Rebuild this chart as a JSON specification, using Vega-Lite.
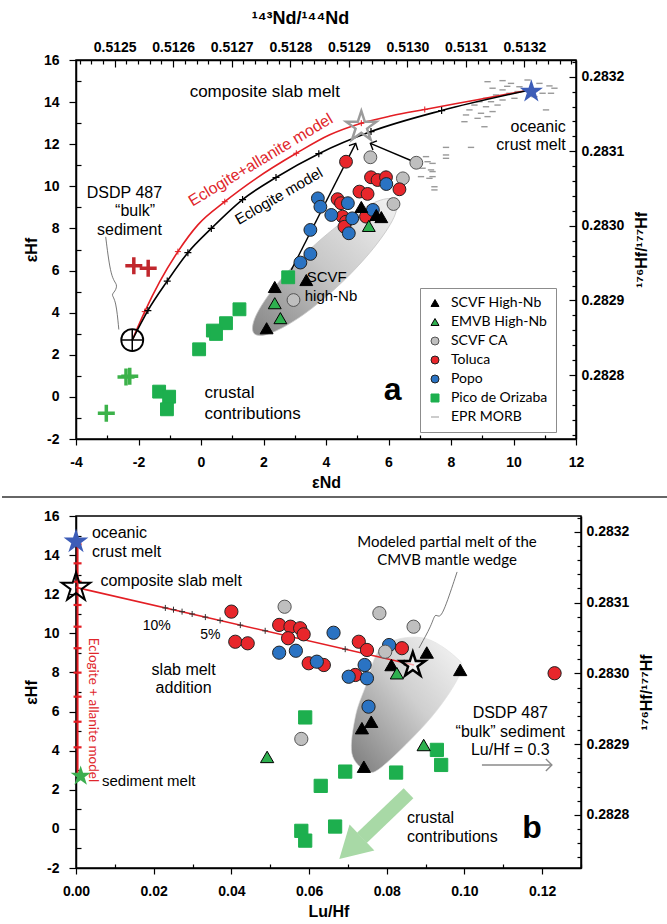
{
  "$schema": "https://vega.github.io/schema/vega-lite/v6.json",
  "background": "white",
  "padding": {"top": 8, "left": 0, "right": 0, "bottom": 0},
  "config": {
    "view": {"stroke": "black", "strokeWidth": 1.5},
    "axis": {"grid": false, "domainColor": "black", "domainWidth": 1.5, "tickColor": "black", "tickWidth": 1.2, "labelFont": "Liberation Sans", "labelFontWeight": "bold", "labelFontSize": 14, "labelColor": "black", "titleFont": "Liberation Sans", "titleFontWeight": "bold", "titleFontSize": 16, "titleColor": "black", "labelOverlap": false, "labelFlush": false, "labelBound": false},
    "point": {"opacity": 1},
    "text": {"font": "Liberation Sans", "color": "black", "baseline": "middle"}
  },
  "spacing": 77,
  "bounds": "flush",
  "resolve": {"scale": {"fill": "independent", "stroke": "independent", "shape": "independent"}, "legend": {"fill": "independent", "stroke": "independent", "shape": "independent"}},
  "datasets": {
    "top_pts": [
      {"nd":9.17,"hf":14.97,"group":"EPR MORB"},{"nd":9.65,"hf":15.02,"group":"EPR MORB"},{"nd":9.92,"hf":14.89,"group":"EPR MORB"},{"nd":10.19,"hf":14.73,"group":"EPR MORB"},{"nd":9.33,"hf":14.66,"group":"EPR MORB"},{"nd":9.65,"hf":14.58,"group":"EPR MORB"},{"nd":9.87,"hf":14.42,"group":"EPR MORB"},{"nd":10.13,"hf":14.5,"group":"EPR MORB"},{"nd":10.83,"hf":14.89,"group":"EPR MORB"},{"nd":11.15,"hf":14.77,"group":"EPR MORB"},{"nd":11.31,"hf":14.66,"group":"EPR MORB"},{"nd":11.2,"hf":14.42,"group":"EPR MORB"},{"nd":10.93,"hf":14.42,"group":"EPR MORB"},{"nd":10.67,"hf":14.26,"group":"EPR MORB"},{"nd":9.44,"hf":14.34,"group":"EPR MORB"},{"nd":9.12,"hf":14.18,"group":"EPR MORB"},{"nd":8.91,"hf":14.02,"group":"EPR MORB"},{"nd":9.28,"hf":14.02,"group":"EPR MORB"},{"nd":9.65,"hf":14.1,"group":"EPR MORB"},{"nd":10.03,"hf":14.18,"group":"EPR MORB"},{"nd":8.75,"hf":13.86,"group":"EPR MORB"},{"nd":9.12,"hf":13.78,"group":"EPR MORB"},{"nd":9.49,"hf":13.86,"group":"EPR MORB"},{"nd":8.59,"hf":13.63,"group":"EPR MORB"},{"nd":8.96,"hf":13.47,"group":"EPR MORB"},{"nd":9.33,"hf":13.55,"group":"EPR MORB"},{"nd":8.85,"hf":13.23,"group":"EPR MORB"},{"nd":9.17,"hf":13.31,"group":"EPR MORB"},{"nd":8.43,"hf":13.07,"group":"EPR MORB"},{"nd":9.07,"hf":12.83,"group":"EPR MORB"},{"nd":11.04,"hf":13.63,"group":"EPR MORB"},{"nd":7.84,"hf":11.85,"group":"EPR MORB"},{"nd":8.64,"hf":11.85,"group":"EPR MORB"},{"nd":7.2,"hf":11.41,"group":"EPR MORB"},{"nd":7.84,"hf":11.33,"group":"EPR MORB"},{"nd":7.25,"hf":11.17,"group":"EPR MORB"},{"nd":7.36,"hf":10.78,"group":"EPR MORB"},{"nd":7.41,"hf":10.7,"group":"EPR MORB"},{"nd":7.04,"hf":10.46,"group":"EPR MORB"},{"nd":7.31,"hf":10.38,"group":"EPR MORB"},{"nd":7.47,"hf":9.98,"group":"EPR MORB"},{"nd":7.47,"hf":9.83,"group":"EPR MORB"},{"nd":7.84,"hf":11.49,"group":"EPR MORB"},{"nd":7.41,"hf":11.09,"group":"EPR MORB"},{"nd":7.09,"hf":10.86,"group":"EPR MORB"},{"nd":7.41,"hf":10.46,"group":"EPR MORB"},{"nd":8.48,"hf":13.39,"group":"EPR MORB"},{"nd":10.45,"hf":15.05,"group":"EPR MORB"},{"nd":10.75,"hf":14.6,"group":"EPR MORB"},{"nd":9.8,"hf":14.75,"group":"EPR MORB"},
      {"nd":2.79,"hf":5.68,"group":"Pico de Orizaba"},{"nd":1.23,"hf":4.16,"group":"Pico de Orizaba"},{"nd":0.8,"hf":3.5,"group":"Pico de Orizaba"},{"nd":0.38,"hf":3.15,"group":"Pico de Orizaba"},{"nd":0.48,"hf":2.99,"group":"Pico de Orizaba"},{"nd":-0.06,"hf":2.26,"group":"Pico de Orizaba"},{"nd":-1.34,"hf":0.25,"group":"Pico de Orizaba"},{"nd":-1.02,"hf":0.01,"group":"Pico de Orizaba"},{"nd":-1.09,"hf":-0.59,"group":"Pico de Orizaba"},
      {"nd":5.42,"hf":11.38,"group":"SCVF CA"},{"nd":6.89,"hf":11.12,"group":"SCVF CA"},{"nd":6.46,"hf":10.38,"group":"SCVF CA"},{"nd":6.16,"hf":9.16,"group":"SCVF CA"},{"nd":2.96,"hf":4.6,"group":"SCVF CA"},
      {"nd":4.64,"hf":11.17,"group":"Toluca"},{"nd":5.44,"hf":10.43,"group":"Toluca"},{"nd":5.65,"hf":10.3,"group":"Toluca"},{"nd":5.92,"hf":10.43,"group":"Toluca"},{"nd":6.35,"hf":9.86,"group":"Toluca"},{"nd":5.07,"hf":9.75,"group":"Toluca"},{"nd":5.33,"hf":9.64,"group":"Toluca"},{"nd":4.37,"hf":9.39,"group":"Toluca"},{"nd":4.48,"hf":9.2,"group":"Toluca"},{"nd":4.53,"hf":8.56,"group":"Toluca"},{"nd":4.64,"hf":8.32,"group":"Toluca"},{"nd":4.59,"hf":8.08,"group":"Toluca"},{"nd":5.28,"hf":8.56,"group":"Toluca"},
      {"nd":3.74,"hf":9.43,"group":"Popo"},{"nd":3.82,"hf":9.03,"group":"Popo"},{"nd":4.17,"hf":8.64,"group":"Popo"},{"nd":4.7,"hf":9.2,"group":"Popo"},{"nd":4.84,"hf":8.48,"group":"Popo"},{"nd":4.73,"hf":7.77,"group":"Popo"},{"nd":5.5,"hf":8.88,"group":"Popo"},{"nd":5.93,"hf":10.11,"group":"Popo"},{"nd":3.5,"hf":7.93,"group":"Popo"},{"nd":3.5,"hf":6.79,"group":"Popo"},{"nd":3.18,"hf":6.38,"group":"Popo"},
      {"nd":2.36,"hf":5.22,"group":"SCVF High-Nb"},{"nd":3.37,"hf":5.55,"group":"SCVF High-Nb"},{"nd":2.1,"hf":3.26,"group":"SCVF High-Nb"},{"nd":5.13,"hf":9.02,"group":"SCVF High-Nb"},{"nd":5.61,"hf":8.64,"group":"SCVF High-Nb"},{"nd":5.77,"hf":8.54,"group":"SCVF High-Nb"},
      {"nd":2.36,"hf":4.45,"group":"EMVB High-Nb"},{"nd":2.54,"hf":3.74,"group":"EMVB High-Nb"},{"nd":5.37,"hf":8.12,"group":"EMVB High-Nb"}
    ],
    "curve_e": [
      {"nd":-2.2,"hf":2.7,"ord":0},{"nd":-1.7,"hf":4.1,"ord":1},{"nd":-1.08,"hf":5.5,"ord":2},{"nd":-0.42,"hf":6.85,"ord":3},{"nd":0.33,"hf":8.0,"ord":4},{"nd":1.33,"hf":9.37,"ord":5},{"nd":2.4,"hf":10.42,"ord":6},{"nd":3.77,"hf":11.55,"ord":7},{"nd":5.44,"hf":12.6,"ord":8},{"nd":7.7,"hf":13.6,"ord":9},{"nd":10.6,"hf":14.6,"ord":10}
    ],
    "curve_a": [
      {"nd":-2.2,"hf":2.7,"ord":0},{"nd":-1.8,"hf":4.05,"ord":1},{"nd":-1.32,"hf":5.47,"ord":2},{"nd":-0.74,"hf":6.9,"ord":3},{"nd":-0.1,"hf":8.17,"ord":4},{"nd":0.76,"hf":9.27,"ord":5},{"nd":1.77,"hf":10.38,"ord":6},{"nd":3.05,"hf":11.57,"ord":7},{"nd":4.12,"hf":12.45,"ord":8},{"nd":5.13,"hf":13.0,"ord":9},{"nd":6.1,"hf":13.35,"ord":10},{"nd":7.16,"hf":13.65,"ord":11},{"nd":8.8,"hf":14.1,"ord":12},{"nd":10.6,"hf":14.6,"ord":13}
    ],
    "top_ell": [
      {"nd":6.22,"hf":9.33,"ord":0},{"nd":6.17,"hf":8.51,"ord":1},{"nd":5.52,"hf":7.06,"ord":2},{"nd":4.47,"hf":5.38,"ord":3},{"nd":3.27,"hf":3.9,"ord":4},{"nd":2.25,"hf":3.04,"ord":5},{"nd":1.7,"hf":3.01,"ord":6},{"nd":1.75,"hf":3.83,"ord":7},{"nd":2.39,"hf":5.28,"ord":8},{"nd":3.45,"hf":6.96,"ord":9},{"nd":4.65,"hf":8.44,"ord":10},{"nd":5.66,"hf":9.3,"ord":11}
    ],
    "bot_pts": [
      {"lh":0.0693,"hf":2.93,"group":"Pico de Orizaba"},{"lh":0.0824,"hf":2.88,"group":"Pico de Orizaba"},{"lh":0.0929,"hf":4.04,"group":"Pico de Orizaba"},{"lh":0.094,"hf":3.27,"group":"Pico de Orizaba"},{"lh":0.0667,"hf":0.12,"group":"Pico de Orizaba"},{"lh":0.059,"hf":5.7,"group":"Pico de Orizaba"},{"lh":0.063,"hf":2.2,"group":"Pico de Orizaba"},{"lh":0.058,"hf":-0.1,"group":"Pico de Orizaba"},{"lh":0.059,"hf":-0.6,"group":"Pico de Orizaba"},
      {"lh":0.0537,"hf":11.36,"group":"SCVF CA"},{"lh":0.0781,"hf":11.03,"group":"SCVF CA"},{"lh":0.0869,"hf":10.34,"group":"SCVF CA"},{"lh":0.058,"hf":4.6,"group":"SCVF CA"},
      {"lh":0.040,"hf":11.11,"group":"Toluca"},{"lh":0.041,"hf":9.57,"group":"Toluca"},{"lh":0.0442,"hf":9.49,"group":"Toluca"},{"lh":0.0523,"hf":10.43,"group":"Toluca"},{"lh":0.0552,"hf":10.34,"group":"Toluca"},{"lh":0.0577,"hf":10.26,"group":"Toluca"},{"lh":0.0546,"hf":9.75,"group":"Toluca"},{"lh":0.0586,"hf":9.95,"group":"Toluca"},{"lh":0.0599,"hf":8.47,"group":"Toluca"},{"lh":0.0638,"hf":8.38,"group":"Toluca"},{"lh":0.0728,"hf":9.57,"group":"Toluca"},{"lh":0.0749,"hf":9.15,"group":"Toluca"},{"lh":0.0839,"hf":9.24,"group":"Toluca"},{"lh":0.0719,"hf":7.87,"group":"Toluca"},{"lh":0.1232,"hf":7.96,"group":"Toluca"},
      {"lh":0.0523,"hf":9.01,"group":"Popo"},{"lh":0.0566,"hf":9.11,"group":"Popo"},{"lh":0.062,"hf":8.55,"group":"Popo"},{"lh":0.0663,"hf":10.03,"group":"Popo"},{"lh":0.0702,"hf":7.78,"group":"Popo"},{"lh":0.0743,"hf":8.38,"group":"Popo"},{"lh":0.0749,"hf":7.7,"group":"Popo"},{"lh":0.0806,"hf":9.4,"group":"Popo"},{"lh":0.0753,"hf":6.25,"group":"Popo"},
      {"lh":0.0796,"hf":9.06,"group":"SCVF CA"},
      {"lh":0.0812,"hf":8.38,"group":"SCVF High-Nb"},{"lh":0.0903,"hf":9.02,"group":"SCVF High-Nb"},{"lh":0.0989,"hf":8.13,"group":"SCVF High-Nb"},{"lh":0.0736,"hf":5.15,"group":"SCVF High-Nb"},{"lh":0.076,"hf":5.48,"group":"SCVF High-Nb"},{"lh":0.0741,"hf":3.18,"group":"SCVF High-Nb"},
      {"lh":0.0826,"hf":7.96,"group":"EMVB High-Nb"},{"lh":0.0895,"hf":4.29,"group":"EMVB High-Nb"},{"lh":0.0492,"hf":3.68,"group":"EMVB High-Nb"}
    ],
    "bot_poly": [
      {"lh":0.089,"hf":9.78,"ord":0},{"lh":0.0976,"hf":8.81,"ord":1},{"lh":0.0989,"hf":7.96,"ord":2},{"lh":0.0916,"hf":5.74,"ord":3},{"lh":0.0788,"hf":3.18,"ord":4},{"lh":0.0745,"hf":3.01,"ord":5},{"lh":0.071,"hf":3.87,"ord":6},{"lh":0.0719,"hf":5.74,"ord":7},{"lh":0.0745,"hf":7.27,"ord":8},{"lh":0.0788,"hf":9.32,"ord":9}
    ]
  },
  "vconcat": [
    {
      "width": 500,
      "height": 379,
      "resolve": {"scale": {"x": "independent", "y": "independent"}},
      "layer": [
        {
          "encoding": {
            "x": {"field": "nd", "type": "quantitative", "scale": {"domain": [-4, 12], "nice": false, "zero": false},
              "axis": {"title": "εNd", "values": [-4,-3,-2,-1,0,1,2,3,4,5,6,7,8,9,10,11,12], "labelExpr": "datum.value % 2 == 0 ? '' + datum.value : ''", "tickSize": {"condition": {"test": "datum.value % 2 != 0", "value": -4}, "value": 6}, "labelPadding": 10, "titlePadding": 5}},
            "y": {"field": "hf", "type": "quantitative", "scale": {"domain": [-2, 16], "nice": false, "zero": false},
              "axis": {"title": "εHf", "values": [-2,-1,0,1,2,3,4,5,6,7,8,9,10,11,12,13,14,15,16], "labelExpr": "datum.value % 2 == 0 ? '' + datum.value : ''", "tickSize": {"condition": {"test": "datum.value % 2 != 0", "value": -5}, "value": 7}, "labelPadding": 10, "titlePadding": 4}}
          },
          "layer": [
            {"data": {"name": "top_ell"}, "mark": {"type": "line", "interpolate": "cardinal-closed", "fill": {"gradient": "linear", "x1": 0, "y1": 1, "x2": 1, "y2": 0, "stops": [{"offset": 0, "color": "#858585"}, {"offset": 0.5, "color": "#c8c8c8"}, {"offset": 1, "color": "#f2f2f2"}]}, "stroke": "#c4c4c4", "strokeWidth": 0.8}, "encoding": {"order": {"field": "ord", "type": "quantitative"}}},
            {"data": {"name": "top_pts"}, "transform": [{"filter": "datum.group == 'EPR MORB'"}], "mark": {"type": "point", "filled": true, "size": 40, "strokeWidth": 1.4},
              "encoding": {
                "fill": {"field": "group", "type": "nominal", "scale": {"domain": ["SCVF High-Nb","EMVB High-Nb","SCVF CA","Toluca","Popo","Pico de Orizaba","EPR MORB"], "range": ["#000000","#2eb04f","#bfbfbf","#e8262b","#2a73c3","#1daf4e","#999999"]}, "legend": {"title": null, "orient": "none", "legendX": 344, "legendY": 228, "padding": 8, "strokeColor": "#8c8c8c", "fillColor": "white", "labelFont": "Lato", "labelFontSize": 14, "labelColor": "black", "symbolSize": 64, "symbolStrokeWidth": 1, "rowPadding": 5, "labelOffset": 9}},
                "stroke": {"field": "group", "type": "nominal", "scale": {"domain": ["SCVF High-Nb","EMVB High-Nb","SCVF CA","Toluca","Popo","Pico de Orizaba","EPR MORB"], "range": ["#000000","#000000","#555555","#222222","#222222","#1daf4e","#999999"]}, "legend": {"title": null, "orient": "none", "legendX": 344, "legendY": 228, "padding": 8, "strokeColor": "#8c8c8c", "fillColor": "white", "labelFont": "Lato", "labelFontSize": 14, "labelColor": "black", "symbolSize": 64, "symbolStrokeWidth": 1, "rowPadding": 5, "labelOffset": 9}},
                "shape": {"field": "group", "type": "nominal", "scale": {"domain": ["SCVF High-Nb","EMVB High-Nb","SCVF CA","Toluca","Popo","Pico de Orizaba","EPR MORB"], "range": ["triangle-up","triangle-up","circle","circle","circle","square","M-1,0L1,0"]}, "legend": {"title": null, "orient": "none", "legendX": 344, "legendY": 228, "padding": 8, "strokeColor": "#8c8c8c", "fillColor": "white", "labelFont": "Lato", "labelFontSize": 14, "labelColor": "black", "symbolSize": 64, "symbolStrokeWidth": 1, "rowPadding": 5, "labelOffset": 9}}
              }},
            {"data": {"name": "curve_a"}, "mark": {"type": "line", "color": "#e31e24", "strokeWidth": 1.6, "interpolate": "monotone"}, "encoding": {"order": {"field": "ord", "type": "quantitative"}}},
            {"data": {"name": "curve_a"}, "transform": [{"filter": "datum.ord % 2 == 1"}], "mark": {"type": "point", "shape": "M-1,0L1,0M0,-1L0,1", "filled": false, "color": "#e31e24", "strokeWidth": 1, "size": 36}},
            {"data": {"name": "curve_e"}, "mark": {"type": "line", "color": "black", "strokeWidth": 1.6, "interpolate": "monotone"}, "encoding": {"order": {"field": "ord", "type": "quantitative"}}},
            {"data": {"name": "curve_e"}, "transform": [{"filter": "datum.ord > 0 && datum.ord < 10"}], "mark": {"type": "point", "shape": "M-1,0L1,0M0,-1L0,1", "filled": false, "color": "black", "strokeWidth": 1.2, "size": 49}},
            {"data": {"values": [{"nd":2.89,"hf":6.03,"arrow":"a1","ord":0},{"nd":4.95,"hf":12.04,"arrow":"a1","ord":1},{"nd":6.89,"hf":11.12,"arrow":"a2","ord":0},{"nd":5.42,"hf":12.04,"arrow":"a2","ord":1}]}, "mark": {"type": "line", "color": "black", "strokeWidth": 1.4}, "encoding": {"detail": {"field": "arrow"}, "order": {"field": "ord", "type": "quantitative"}}},
            {"data": {"values": [{"nd":4.95,"hf":12.04}]}, "mark": {"type": "point", "shape": "M-1,1L0,0L1,1", "filled": false, "color": "black", "strokeWidth": 1.4, "size": 100, "angle": 27}},
            {"data": {"values": [{"nd":5.42,"hf":12.04}]}, "mark": {"type": "point", "shape": "M-1,1L0,0L1,1", "filled": false, "color": "black", "strokeWidth": 1.4, "size": 100, "angle": 293.6}},
            {"data": {"values": [{"nd":-3.05,"hf":7.6,"ord":0},{"nd":-2.88,"hf":5.6,"ord":1},{"nd":-2.66,"hf":5.35,"ord":2},{"nd":-2.75,"hf":5.0,"ord":3},{"nd":-2.88,"hf":4.85,"ord":4},{"nd":-2.72,"hf":4.6,"ord":5},{"nd":-2.63,"hf":3.2,"ord":6}]}, "mark": {"type": "line", "color": "#555555", "strokeWidth": 0.8, "interpolate": "basis"}, "encoding": {"order": {"field": "ord", "type": "quantitative"}}},
            {"data": {"values": [{"nd":-2.15,"hf":6.23},{"nd":-1.69,"hf":6.11}]}, "mark": {"type": "point", "shape": "M-1,0L1,0M0,-1L0,1", "filled": false, "color": "#c1272d", "strokeWidth": 3.5, "size": 289}},
            {"data": {"values": [{"nd":-2.4,"hf":0.95},{"nd":-2.28,"hf":0.98},{"nd":-3.03,"hf":-0.78}]}, "mark": {"type": "point", "shape": "M-1,0L1,0M0,-1L0,1", "filled": false, "color": "#3cb24a", "strokeWidth": 3.5, "size": 289}},
            {"data": {"values": [{"nd":-2.2,"hf":2.7}]}, "mark": {"type": "point", "shape": "circle", "filled": false, "color": "black", "strokeWidth": 1.8, "size": 484}},
            {"data": {"values": [{"nd":-2.2,"hf":2.7}]}, "mark": {"type": "point", "shape": "M-1,0L1,0M0,-1L0,1", "filled": false, "color": "black", "strokeWidth": 1.5, "size": 484}},
            {"data": {"name": "top_pts"}, "transform": [{"filter": "datum.group != 'EPR MORB'"}], "mark": {"type": "point", "filled": true, "size": 165, "strokeWidth": 1},
              "encoding": {
                "fill": {"field": "group", "type": "nominal", "scale": {"domain": ["SCVF High-Nb","EMVB High-Nb","SCVF CA","Toluca","Popo","Pico de Orizaba","EPR MORB"], "range": ["#000000","#2eb04f","#bfbfbf","#e8262b","#2a73c3","#1daf4e","#999999"]}, "legend": {"title": null, "orient": "none", "legendX": 344, "legendY": 228, "padding": 8, "strokeColor": "#8c8c8c", "fillColor": "white", "labelFont": "Lato", "labelFontSize": 14, "labelColor": "black", "symbolSize": 64, "symbolStrokeWidth": 1, "rowPadding": 5, "labelOffset": 9}},
                "stroke": {"field": "group", "type": "nominal", "scale": {"domain": ["SCVF High-Nb","EMVB High-Nb","SCVF CA","Toluca","Popo","Pico de Orizaba","EPR MORB"], "range": ["#000000","#000000","#555555","#222222","#222222","#1daf4e","#999999"]}, "legend": {"title": null, "orient": "none", "legendX": 344, "legendY": 228, "padding": 8, "strokeColor": "#8c8c8c", "fillColor": "white", "labelFont": "Lato", "labelFontSize": 14, "labelColor": "black", "symbolSize": 64, "symbolStrokeWidth": 1, "rowPadding": 5, "labelOffset": 9}},
                "shape": {"field": "group", "type": "nominal", "scale": {"domain": ["SCVF High-Nb","EMVB High-Nb","SCVF CA","Toluca","Popo","Pico de Orizaba","EPR MORB"], "range": ["triangle-up","triangle-up","circle","circle","circle","square","M-1,0L1,0"]}, "legend": {"title": null, "orient": "none", "legendX": 344, "legendY": 228, "padding": 8, "strokeColor": "#8c8c8c", "fillColor": "white", "labelFont": "Lato", "labelFontSize": 14, "labelColor": "black", "symbolSize": 64, "symbolStrokeWidth": 1, "rowPadding": 5, "labelOffset": 9}}
              }},
            {"data": {"values": [{"nd":5.13,"hf":12.83}]}, "mark": {"type": "point", "shape": "M0,-1L0.2245,-0.309L0.951,-0.309L0.363,0.118L0.588,0.809L0,0.382L-0.588,0.809L-0.363,0.118L-0.951,-0.309L-0.2245,-0.309Z", "filled": false, "color": "#9b9b9b", "strokeWidth": 2.5, "size": 1000}},
            {"data": {"values": [{"nd":10.57,"hf":14.5}]}, "mark": {"type": "point", "shape": "M0,-1L0.2245,-0.309L0.951,-0.309L0.363,0.118L0.588,0.809L0,0.382L-0.588,0.809L-0.363,0.118L-0.951,-0.309L-0.2245,-0.309Z", "filled": true, "color": "#3d5db8", "size": 600}},
            {"data": {"values": [{"nd":2.04,"hf":14.49,"txt":"composite slab melt"}]}, "mark": {"type": "text", "fontSize": 17, "align": "center"}, "encoding": {"text": {"field": "txt"}}},
            {"data": {"values": [{"nd":0.11,"hf":0.17,"txt":"crustal"},{"nd":0.11,"hf":-0.82,"txt":"contributions"}]}, "mark": {"type": "text", "fontSize": 17, "align": "left"}, "encoding": {"text": {"field": "txt"}}},
            {"data": {"values": [{"nd":1.91,"hf":11.25,"txt":"Eclogite+allanite model"}]}, "mark": {"type": "text", "fontSize": 16, "align": "center", "angle": -31, "color": "#e0262b"}, "encoding": {"text": {"field": "txt"}}},
            {"data": {"values": [{"nd":2.49,"hf":9.54,"txt":"Eclogite model"}]}, "mark": {"type": "text", "fontSize": 15, "align": "center", "angle": -30}, "encoding": {"text": {"field": "txt"}}},
            {"data": {"values": [{"nd":-2.45,"hf":9.67,"txt":"DSDP 487"},{"nd":-2.11,"hf":8.83,"txt":"“bulk”"},{"nd":-2.29,"hf":7.93,"txt":"sediment"}]}, "mark": {"type": "text", "fontSize": 16, "align": "center"}, "encoding": {"text": {"field": "txt"}}},
            {"data": {"values": [{"nd":11.67,"hf":12.83,"txt":"oceanic"},{"nd":11.67,"hf":11.96,"txt":"crust melt"}]}, "mark": {"type": "text", "fontSize": 16, "align": "right"}, "encoding": {"text": {"field": "txt"}}},
            {"data": {"values": [{"nd":3.38,"hf":5.7,"txt":"SCVF"},{"nd":3.32,"hf":4.79,"txt":"high-Nb"}]}, "mark": {"type": "text", "fontSize": 15, "align": "left"}, "encoding": {"text": {"field": "txt"}}},
            {"data": {"values": [{"nd":6.13,"hf":0.33,"txt":"a"}]}, "mark": {"type": "text", "fontSize": 32, "fontWeight": "bold", "align": "center"}, "encoding": {"text": {"field": "txt"}}}
          ]
        },
        {
          "data": {"values": [{"ndr":0.512434,"hfr":0.2832224},{"ndr":0.513288,"hfr":0.2827142}]},
          "mark": {"type": "point", "opacity": 0},
          "encoding": {
            "x": {"field": "ndr", "type": "quantitative", "scale": {"domain": [0.512434, 0.513288], "nice": false, "zero": false},
              "axis": {"orient": "top", "title": "¹⁴³Nd/¹⁴⁴Nd", "titleFontSize": 18, "titleX": 224, "titleAlign": "center", "values": [0.51244,0.51246,0.51248,0.5125,0.51252,0.51254,0.51256,0.51258,0.5126,0.51262,0.51264,0.51266,0.51268,0.5127,0.51272,0.51274,0.51276,0.51278,0.5128,0.51282,0.51284,0.51286,0.51288,0.5129,0.51292,0.51294,0.51296,0.51298,0.513,0.51302,0.51304,0.51306,0.51308,0.5131,0.51312,0.51314,0.51316,0.51318,0.5132,0.51322,0.51324,0.51326,0.51328], "labelExpr": "round(datum.value*100000) % 10 == 0 ? format(datum.value, '.4f') : ''", "tickSize": {"condition": {"test": "round(datum.value*100000) % 10 != 0", "value": -4}, "value": -7}, "labelPadding": 13, "titlePadding": 10}},
            "y": {"field": "hfr", "type": "quantitative", "scale": {"domain": [0.2827142, 0.2832224], "nice": false, "zero": false},
              "axis": {"orient": "right", "title": "¹⁷⁶Hf/¹⁷⁷Hf", "titleAngle": 270, "titleBaseline": "top", "values": [0.28272,0.28274,0.28276,0.28278,0.2828,0.28282,0.28284,0.28286,0.28288,0.2829,0.28292,0.28294,0.28296,0.28298,0.283,0.28302,0.28304,0.28306,0.28308,0.2831,0.28312,0.28314,0.28316,0.28318,0.2832,0.28322], "labelExpr": "round(datum.value*100000) % 10 == 0 ? format(datum.value, '.4f') : ''", "tickSize": {"condition": {"test": "round(datum.value*100000) % 10 != 0", "value": -4}, "value": -7}, "labelPadding": 12, "titlePadding": 10}}
          }
        }
      ]
    },
    {
      "width": 505,
      "height": 352,
      "resolve": {"scale": {"y": "independent"}},
      "layer": [
        {
          "encoding": {
            "x": {"field": "lh", "type": "quantitative", "scale": {"domain": [0, 0.13], "nice": false, "zero": false},
              "axis": {"title": "Lu/Hf", "values": [0,0.01,0.02,0.03,0.04,0.05,0.06,0.07,0.08,0.09,0.1,0.11,0.12,0.13], "labelExpr": "round(datum.value*100) % 2 == 0 ? format(datum.value, '.2f') : ''", "tickSize": {"condition": {"test": "round(datum.value*100) % 2 != 0", "value": -4}, "value": 6}, "labelPadding": 10, "titlePadding": 5}},
            "y": {"field": "hf", "type": "quantitative", "scale": {"domain": [-2, 16], "nice": false, "zero": false},
              "axis": {"title": "εHf", "values": [-2,-1,0,1,2,3,4,5,6,7,8,9,10,11,12,13,14,15,16], "labelExpr": "datum.value % 2 == 0 ? '' + datum.value : ''", "tickSize": {"condition": {"test": "datum.value % 2 != 0", "value": -5}, "value": 7}, "labelPadding": 10, "titlePadding": 4}}
          },
          "layer": [
            {"data": {"values": [{"lh":-0.01905,"lh2":0.15264,"hf":16.97}]}, "mark": {"type": "rule", "color": "#333333", "strokeWidth": 1.5}, "encoding": {"x2": {"field": "lh2"}}},
            {"data": {"name": "bot_poly"}, "mark": {"type": "line", "interpolate": "cardinal-closed", "fill": {"gradient": "linear", "x1": 0, "y1": 1, "x2": 1, "y2": 0, "stops": [{"offset": 0, "color": "#7a7a7a"}, {"offset": 0.55, "color": "#cfcfcf"}, {"offset": 1, "color": "#f7f7f7"}]}, "stroke": "#dddddd", "strokeWidth": 0.6}, "encoding": {"order": {"field": "ord", "type": "quantitative"}}},
            {"data": {"values": [{"lh":0.0004,"hf":14.65,"ord":0},{"lh":0.0004,"hf":2.7,"ord":1}]}, "mark": {"type": "line", "color": "#e31e24", "strokeWidth": 2}, "encoding": {"order": {"field": "ord", "type": "quantitative"}}},
            {"data": {"values": [{"lh":0.0004,"hf":14.55},{"lh":0.0004,"hf":13.58},{"lh":0.0004,"hf":12.64},{"lh":0.0004,"hf":11.45},{"lh":0.0004,"hf":10.34},{"lh":0.0004,"hf":9.24},{"lh":0.0004,"hf":7.99},{"lh":0.0004,"hf":6.76},{"lh":0.0004,"hf":5.48},{"lh":0.0004,"hf":4.17}]}, "mark": {"type": "point", "shape": "M-1,0L1,0", "filled": false, "color": "#e31e24", "strokeWidth": 2.2, "size": 64}},
            {"data": {"values": [{"lh":0,"hf":12.35,"ord":0},{"lh":0.087,"hf":8.38,"ord":1}]}, "mark": {"type": "line", "color": "#e31e24", "strokeWidth": 1.6}, "encoding": {"order": {"field": "ord", "type": "quantitative"}}},
            {"data": {"values": [{"lh":0.023,"hf":11.3},{"lh":0.0251,"hf":11.21},{"lh":0.0273,"hf":11.11},{"lh":0.0299,"hf":10.99},{"lh":0.0333,"hf":10.83},{"lh":0.0371,"hf":10.66},{"lh":0.0423,"hf":10.42},{"lh":0.0487,"hf":10.13},{"lh":0.0693,"hf":9.19},{"lh":0.0845,"hf":8.5}]}, "mark": {"type": "point", "shape": "M-1,0L1,0M0,-1L0,1", "filled": false, "color": "#333333", "strokeWidth": 1, "size": 36}},
            {"data": {"values": [{"lh":0.0981,"hf":13.14,"ord":0},{"lh":0.0947,"hf":11.09,"ord":1},{"lh":0.0934,"hf":10.79,"ord":2},{"lh":0.0924,"hf":11.04,"ord":3},{"lh":0.0916,"hf":10.43,"ord":4},{"lh":0.0883,"hf":9.25,"ord":5}]}, "mark": {"type": "line", "color": "#555555", "strokeWidth": 0.8, "interpolate": "basis"}, "encoding": {"order": {"field": "ord", "type": "quantitative"}}},
            {"data": {"values": [{"lh":0.0856,"hf":1.82,"ord":0},{"lh":0.0736,"hf":-0.46,"ord":1}]}, "mark": {"type": "line", "color": "#a8d9a6", "strokeWidth": 14}, "encoding": {"order": {"field": "ord", "type": "quantitative"}}},
            {"data": {"values": [{"lh":0.0707,"hf":-0.99}]}, "mark": {"type": "point", "shape": "triangle-up", "filled": true, "color": "#a8d9a6", "size": 1300, "angle": 226.5}},
            {"data": {"values": [{"lh":0.1045,"hf":3.27,"ord":0},{"lh":0.1225,"hf":3.27,"ord":1}]}, "mark": {"type": "line", "color": "#8a8a8a", "strokeWidth": 1.4}, "encoding": {"order": {"field": "ord", "type": "quantitative"}}},
            {"data": {"values": [{"lh":0.1225,"hf":3.27}]}, "mark": {"type": "point", "shape": "M-1,-1L0,0L-1,1", "filled": false, "color": "#8a8a8a", "strokeWidth": 1.4, "size": 144}},
            {"data": {"name": "bot_pts"}, "mark": {"type": "point", "filled": true, "size": 175, "strokeWidth": 1},
              "encoding": {
                "fill": {"field": "group", "type": "nominal", "scale": {"domain": ["SCVF High-Nb","EMVB High-Nb","SCVF CA","Toluca","Popo","Pico de Orizaba","EPR MORB"], "range": ["#000000","#2eb04f","#bfbfbf","#e8262b","#2a73c3","#1daf4e","#999999"]}, "legend": null},
                "stroke": {"field": "group", "type": "nominal", "scale": {"domain": ["SCVF High-Nb","EMVB High-Nb","SCVF CA","Toluca","Popo","Pico de Orizaba","EPR MORB"], "range": ["#000000","#000000","#555555","#222222","#222222","#1daf4e","#999999"]}, "legend": null},
                "shape": {"field": "group", "type": "nominal", "scale": {"domain": ["SCVF High-Nb","EMVB High-Nb","SCVF CA","Toluca","Popo","Pico de Orizaba","EPR MORB"], "range": ["triangle-up","triangle-up","circle","circle","circle","square","M-1,0L1,0"]}, "legend": null}
              }},
            {"data": {"values": [{"lh":0.0,"hf":14.69}]}, "mark": {"type": "point", "shape": "M0,-1L0.2245,-0.309L0.951,-0.309L0.363,0.118L0.588,0.809L0,0.382L-0.588,0.809L-0.363,0.118L-0.951,-0.309L-0.2245,-0.309Z", "filled": true, "color": "#3d5db8", "size": 680}},
            {"data": {"values": [{"lh":0.0012,"hf":2.7}]}, "mark": {"type": "point", "shape": "M0,-1L0.2245,-0.309L0.951,-0.309L0.363,0.118L0.588,0.809L0,0.382L-0.588,0.809L-0.363,0.118L-0.951,-0.309L-0.2245,-0.309Z", "filled": true, "color": "#3cae4f", "size": 450}},
            {"data": {"values": [{"lh":0.0,"hf":12.35}]}, "mark": {"type": "point", "shape": "M0,-1L0.2245,-0.309L0.951,-0.309L0.363,0.118L0.588,0.809L0,0.382L-0.588,0.809L-0.363,0.118L-0.951,-0.309L-0.2245,-0.309Z", "filled": false, "color": "black", "strokeWidth": 2, "size": 900}},
            {"data": {"values": [{"lh":0.0867,"hf":8.38}]}, "mark": {"type": "point", "shape": "M0,-1L0.2245,-0.309L0.951,-0.309L0.363,0.118L0.588,0.809L0,0.382L-0.588,0.809L-0.363,0.118L-0.951,-0.309L-0.2245,-0.309Z", "filled": true, "fill": "white", "fillOpacity": 0.6, "stroke": "black", "strokeWidth": 2.5, "size": 680}},
            {"data": {"values": [{"lh":0.0041,"hf":15.12,"txt":"oceanic"},{"lh":0.0041,"hf":14.17,"txt":"crust melt"},{"lh":0.0063,"hf":12.69,"txt":"composite slab melt"},{"lh":0.0852,"hf":0.55,"txt":"crustal"},{"lh":0.0852,"hf":-0.4,"txt":"contributions"}]}, "mark": {"type": "text", "fontSize": 16, "align": "left"}, "encoding": {"text": {"field": "txt"}}},
            {"data": {"values": [{"lh":0.0067,"hf":2.45,"txt":"sediment melt"}]}, "mark": {"type": "text", "fontSize": 15, "align": "left"}, "encoding": {"text": {"field": "txt"}}},
            {"data": {"values": [{"lh":0.0208,"hf":10.38,"txt":"10%"},{"lh":0.0346,"hf":9.92,"txt":"5%"}]}, "mark": {"type": "text", "fontSize": 14, "align": "center"}, "encoding": {"text": {"field": "txt"}}},
            {"data": {"values": [{"lh":0.0277,"hf":8.13,"txt":"slab melt"},{"lh":0.0277,"hf":7.19,"txt":"addition"},{"lh":0.1118,"hf":5.91,"txt":"DSDP 487"},{"lh":0.1118,"hf":4.97,"txt":"“bulk” sediment"},{"lh":0.1118,"hf":4.04,"txt":"Lu/Hf = 0.3"}]}, "mark": {"type": "text", "fontSize": 16, "align": "center"}, "encoding": {"text": {"field": "txt"}}},
            {"data": {"values": [{"lh":0.0955,"hf":14.69,"txt":"Modeled partial melt of the"},{"lh":0.0955,"hf":13.75,"txt":"CMVB mantle wedge"}]}, "mark": {"type": "text", "font": "Lato", "fontSize": 15, "align": "center"}, "encoding": {"text": {"field": "txt"}}},
            {"data": {"values": [{"lh":0.0044,"hf":6.08,"txt":"Eclogite + allanite model"}]}, "mark": {"type": "text", "font": "Lato", "fontSize": 13.5, "align": "center", "angle": 90, "color": "#e0262b"}, "encoding": {"text": {"field": "txt"}}},
            {"data": {"values": [{"lh":0.1174,"hf":0.03,"txt":"b"}]}, "mark": {"type": "text", "fontSize": 32, "fontWeight": "bold", "align": "center"}, "encoding": {"text": {"field": "txt"}}}
          ]
        },
        {
          "data": {"values": [{"hfr":0.2832222},{"hfr":0.2827251}]},
          "mark": {"type": "point", "opacity": 0},
          "encoding": {
            "y": {"field": "hfr", "type": "quantitative", "scale": {"domain": [0.2827251, 0.2832222], "nice": false, "zero": false},
              "axis": {"orient": "right", "title": "¹⁷⁶Hf/¹⁷⁷Hf", "titleAngle": 270, "titleBaseline": "top", "values": [0.28274,0.28276,0.28278,0.2828,0.28282,0.28284,0.28286,0.28288,0.2829,0.28292,0.28294,0.28296,0.28298,0.283,0.28302,0.28304,0.28306,0.28308,0.2831,0.28312,0.28314,0.28316,0.28318,0.2832,0.28322], "labelExpr": "round(datum.value*100000) % 10 == 0 ? format(datum.value, '.4f') : ''", "tickSize": {"condition": {"test": "round(datum.value*100000) % 10 != 0", "value": -4}, "value": -7}, "labelPadding": 12, "titlePadding": 10}}
          }
        }
      ]
    }
  ]
}
